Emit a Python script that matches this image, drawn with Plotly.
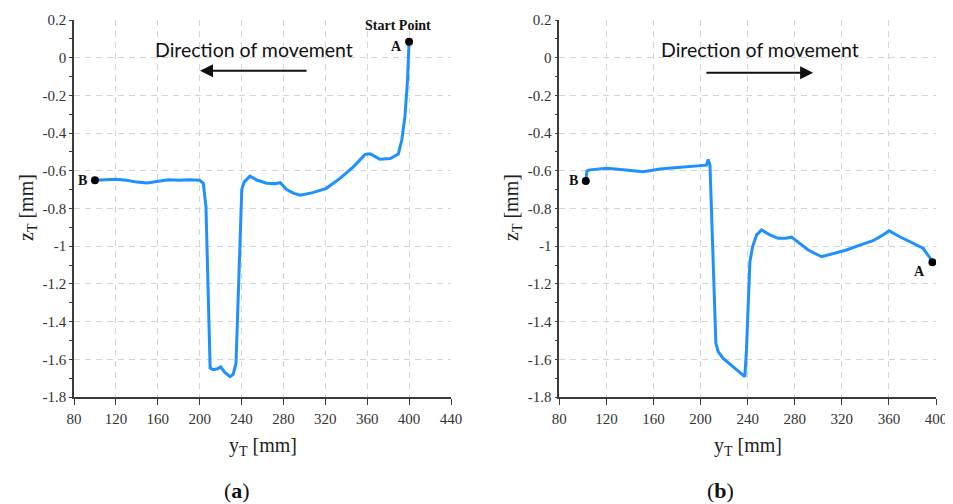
import plotly.graph_objects as go

# ---- data (a) ----
ya_x = [100, 110, 120, 130, 140, 150, 160, 170, 180, 190, 200, 203.5, 206, 210, 213, 217, 220, 224, 229,
        232, 234.7, 240.2, 242.4, 248, 254.5, 264, 272, 277, 283, 290, 296, 308, 321, 334, 347, 358, 363,
        372, 382, 389.7, 393, 396, 398.3, 400]
ya_z = [-0.650, -0.648, -0.645, -0.650, -0.660, -0.665, -0.655, -0.648, -0.650, -0.648, -0.650, -0.666,
        -0.79, -1.646, -1.655, -1.650, -1.640, -1.670, -1.692, -1.680, -1.62, -0.70, -0.66, -0.628, -0.649,
        -0.666, -0.668, -0.663, -0.700, -0.720, -0.730, -0.716, -0.693, -0.640, -0.578, -0.513, -0.510,
        -0.539, -0.535, -0.511, -0.437, -0.313, -0.136, 0.085]

# ---- data (b) ----
yb_x = [102.5, 103.5, 106, 112, 120, 130, 137, 145, 151, 158, 165.5, 175, 182.5, 190, 199.4, 205, 206.5,
        208, 213, 215, 219.2, 227.7, 236.2, 237.6, 239, 240.5, 241.9, 244.2, 247.6, 251.8, 258.9, 265.9,
        272, 277.3, 284.3, 291.4, 302.8, 312.6, 324, 335.3, 346.6, 355, 360.1, 369.2, 380.5, 389, 396.1, 397]
yb_z = [-0.654, -0.600, -0.595, -0.592, -0.587, -0.592, -0.596, -0.600, -0.605, -0.598, -0.590, -0.585,
        -0.582, -0.578, -0.573, -0.570, -0.540, -0.570, -1.515, -1.56, -1.595, -1.639, -1.683, -1.692,
        -1.55, -1.268, -1.082, -1.003, -0.94, -0.914, -0.94, -0.958, -0.958, -0.952, -0.985, -1.02, -1.056,
        -1.041, -1.02, -0.994, -0.971, -0.94, -0.918, -0.95, -0.985, -1.011, -1.073, -1.085]

pts_a = {"A": (400, 0.085), "B": (100, -0.650)}
pts_b = {"A": (397, -1.085), "B": (102.5, -0.654)}

xticks_a = [80, 120, 160, 200, 240, 280, 320, 360, 400, 440]
xticks_b = [80, 120, 160, 200, 240, 280, 320, 360, 400]
yticks = [0.2, 0, -0.2, -0.4, -0.6, -0.8, -1, -1.2, -1.4, -1.6, -1.8]
ytick_text = ["0.2", "0", "-0.2", "-0.4", "-0.6", "-0.8", "-1", "-1.2", "-1.4", "-1.6", "-1.8"]

# the page body adds an 8px margin at top/left, so the figure is drawn offset by 8px
OFF = 8
W, H = 953 - OFF, 504 - OFF
BLUE = "#1E90FF"
SERIF = "Liberation Serif"
SANS = "Lato"


def px(x):  # screen x -> paper fraction
    return (x - OFF) / W


def py(y):  # screen y -> paper fraction
    return 1 - (y - OFF) / H


fig = go.Figure()
fig.add_trace(go.Scatter(x=ya_x, y=ya_z, mode="lines", line=dict(color=BLUE, width=3),
                         xaxis="x", yaxis="y", showlegend=False))
fig.add_trace(go.Scatter(x=yb_x, y=yb_z, mode="lines", line=dict(color=BLUE, width=3),
                         xaxis="x2", yaxis="y2", showlegend=False))
fig.add_trace(go.Scatter(x=[p[0] for p in pts_a.values()], y=[p[1] for p in pts_a.values()],
                         mode="markers", marker=dict(color="black", size=8),
                         xaxis="x", yaxis="y", showlegend=False))
fig.add_trace(go.Scatter(x=[p[0] for p in pts_b.values()], y=[p[1] for p in pts_b.values()],
                         mode="markers", marker=dict(color="black", size=8),
                         xaxis="x2", yaxis="y2", showlegend=False))


def xax(dom, ticks, rng, anchor):
    return dict(domain=dom, range=rng, tickvals=ticks, ticktext=[str(t) for t in ticks],
                showgrid=True, gridcolor="#d4d4d4", griddash="6px,5px", gridwidth=1,
                showline=True, linecolor="#3a3a3a", linewidth=1.5, zeroline=False,
                ticks="outside", ticklen=6, tickcolor="#3a3a3a", tickwidth=1.2,
                tickfont=dict(family=SERIF, size=15, color="#333"), anchor=anchor,
                ticklabelstandoff=1, automargin=False, fixedrange=True)


def yax(dom, anchor):
    return dict(domain=dom, range=[-1.8, 0.2], tickvals=yticks, ticktext=ytick_text,
                showgrid=True, gridcolor="#d4d4d4", griddash="6px,5px", gridwidth=1,
                showline=True, linecolor="#3a3a3a", linewidth=1.5, zeroline=False,
                ticks="outside", ticklen=3, tickcolor="#3a3a3a", tickwidth=1.2,
                minor=dict(dtick=0.1, tick0=0, ticks="outside", ticklen=3, tickcolor="#3a3a3a", showgrid=False),
                tickfont=dict(family=SERIF, size=15, color="#333"), anchor=anchor,
                automargin=False, fixedrange=True)


ydom = [py(397), py(20)]
fig.update_layout(
    width=W, height=H, margin=dict(l=0, r=0, t=0, b=0, pad=0, autoexpand=False),
    paper_bgcolor="white", plot_bgcolor="white",
    xaxis=xax([px(74), px(451)], xticks_a, [80, 440], "y"),
    yaxis=yax(ydom, "x"),
    xaxis2=xax([px(559.3), px(936)], xticks_b, [80, 400], "y2"),
    yaxis2=yax(ydom, "x2"),
)

ann = []
# axis titles and captions
for cx, lx, cap, capx in [(262.5, 27, "(<b>a</b>)", 237), (747.5, 512, "(<b>b</b>)", 720)]:
    ann.append(dict(x=px(cx), y=py(446), xref="paper", yref="paper", showarrow=False,
                    xanchor="center", yanchor="middle",
                    text="y<sub>T</sub> [mm]", font=dict(family=SERIF, size=20, color="#222")))
    ann.append(dict(x=px(lx), y=py(208), xref="paper", yref="paper", showarrow=False, textangle=-90,
                    xanchor="center", yanchor="middle",
                    text="z<sub>T</sub> [mm]", font=dict(family=SERIF, size=20, color="#222")))
    ann.append(dict(x=px(capx), y=py(490), xref="paper", yref="paper", showarrow=False,
                    xanchor="center", yanchor="middle",
                    text=cap, font=dict(family=SERIF, size=22, color="#111")))

# direction text and arrows
ann.append(dict(x=252, y=0.041, xref="x", yref="y", showarrow=False, text="Direction of movement",
                font=dict(family=SANS, size=19.5, color="#111")))
ann.append(dict(x=200.3, y=-0.069, ax=303.5, ay=-0.069, xref="x", yref="y", axref="x", ayref="y",
                text="", showarrow=True, arrowhead=2, arrowsize=1.3, arrowwidth=2, arrowcolor="#111"))
ann.append(dict(x=250.1, y=0.041, xref="x2", yref="y2", showarrow=False, text="Direction of movement",
                font=dict(family=SANS, size=19.5, color="#111")))
ann.append(dict(x=295.6, y=-0.08, ax=203.7, ay=-0.08, xref="x2", yref="y2", axref="x2", ayref="y2",
                text="", showarrow=True, arrowhead=2, arrowsize=1.3, arrowwidth=2, arrowcolor="#111"))

# point labels
ann.append(dict(x=389.8, y=0.173, xref="x", yref="y", showarrow=False, text="<b>Start Point</b>",
                font=dict(family=SERIF, size=14, color="#111")))
ann.append(dict(x=pts_a["A"][0], y=pts_a["A"][1], xref="x", yref="y", showarrow=False, text="<b>A</b>",
                xanchor="right", xshift=-5, yshift=-5, font=dict(family=SERIF, size=14, color="#111")))
ann.append(dict(x=pts_a["B"][0], y=pts_a["B"][1], xref="x", yref="y", showarrow=False, text="<b>B</b>",
                xanchor="right", xshift=-6, font=dict(family=SERIF, size=14, color="#111")))
ann.append(dict(x=pts_b["B"][0], y=pts_b["B"][1], xref="x2", yref="y2", showarrow=False, text="<b>B</b>",
                xanchor="right", xshift=-6, font=dict(family=SERIF, size=14, color="#111")))
ann.append(dict(x=pts_b["A"][0], y=pts_b["A"][1], xref="x2", yref="y2", showarrow=False, text="<b>A</b>",
                xanchor="right", xshift=-5, yshift=-9, font=dict(family=SERIF, size=14, color="#111")))

fig.update_layout(annotations=ann)
fig.write_html("out.html")
